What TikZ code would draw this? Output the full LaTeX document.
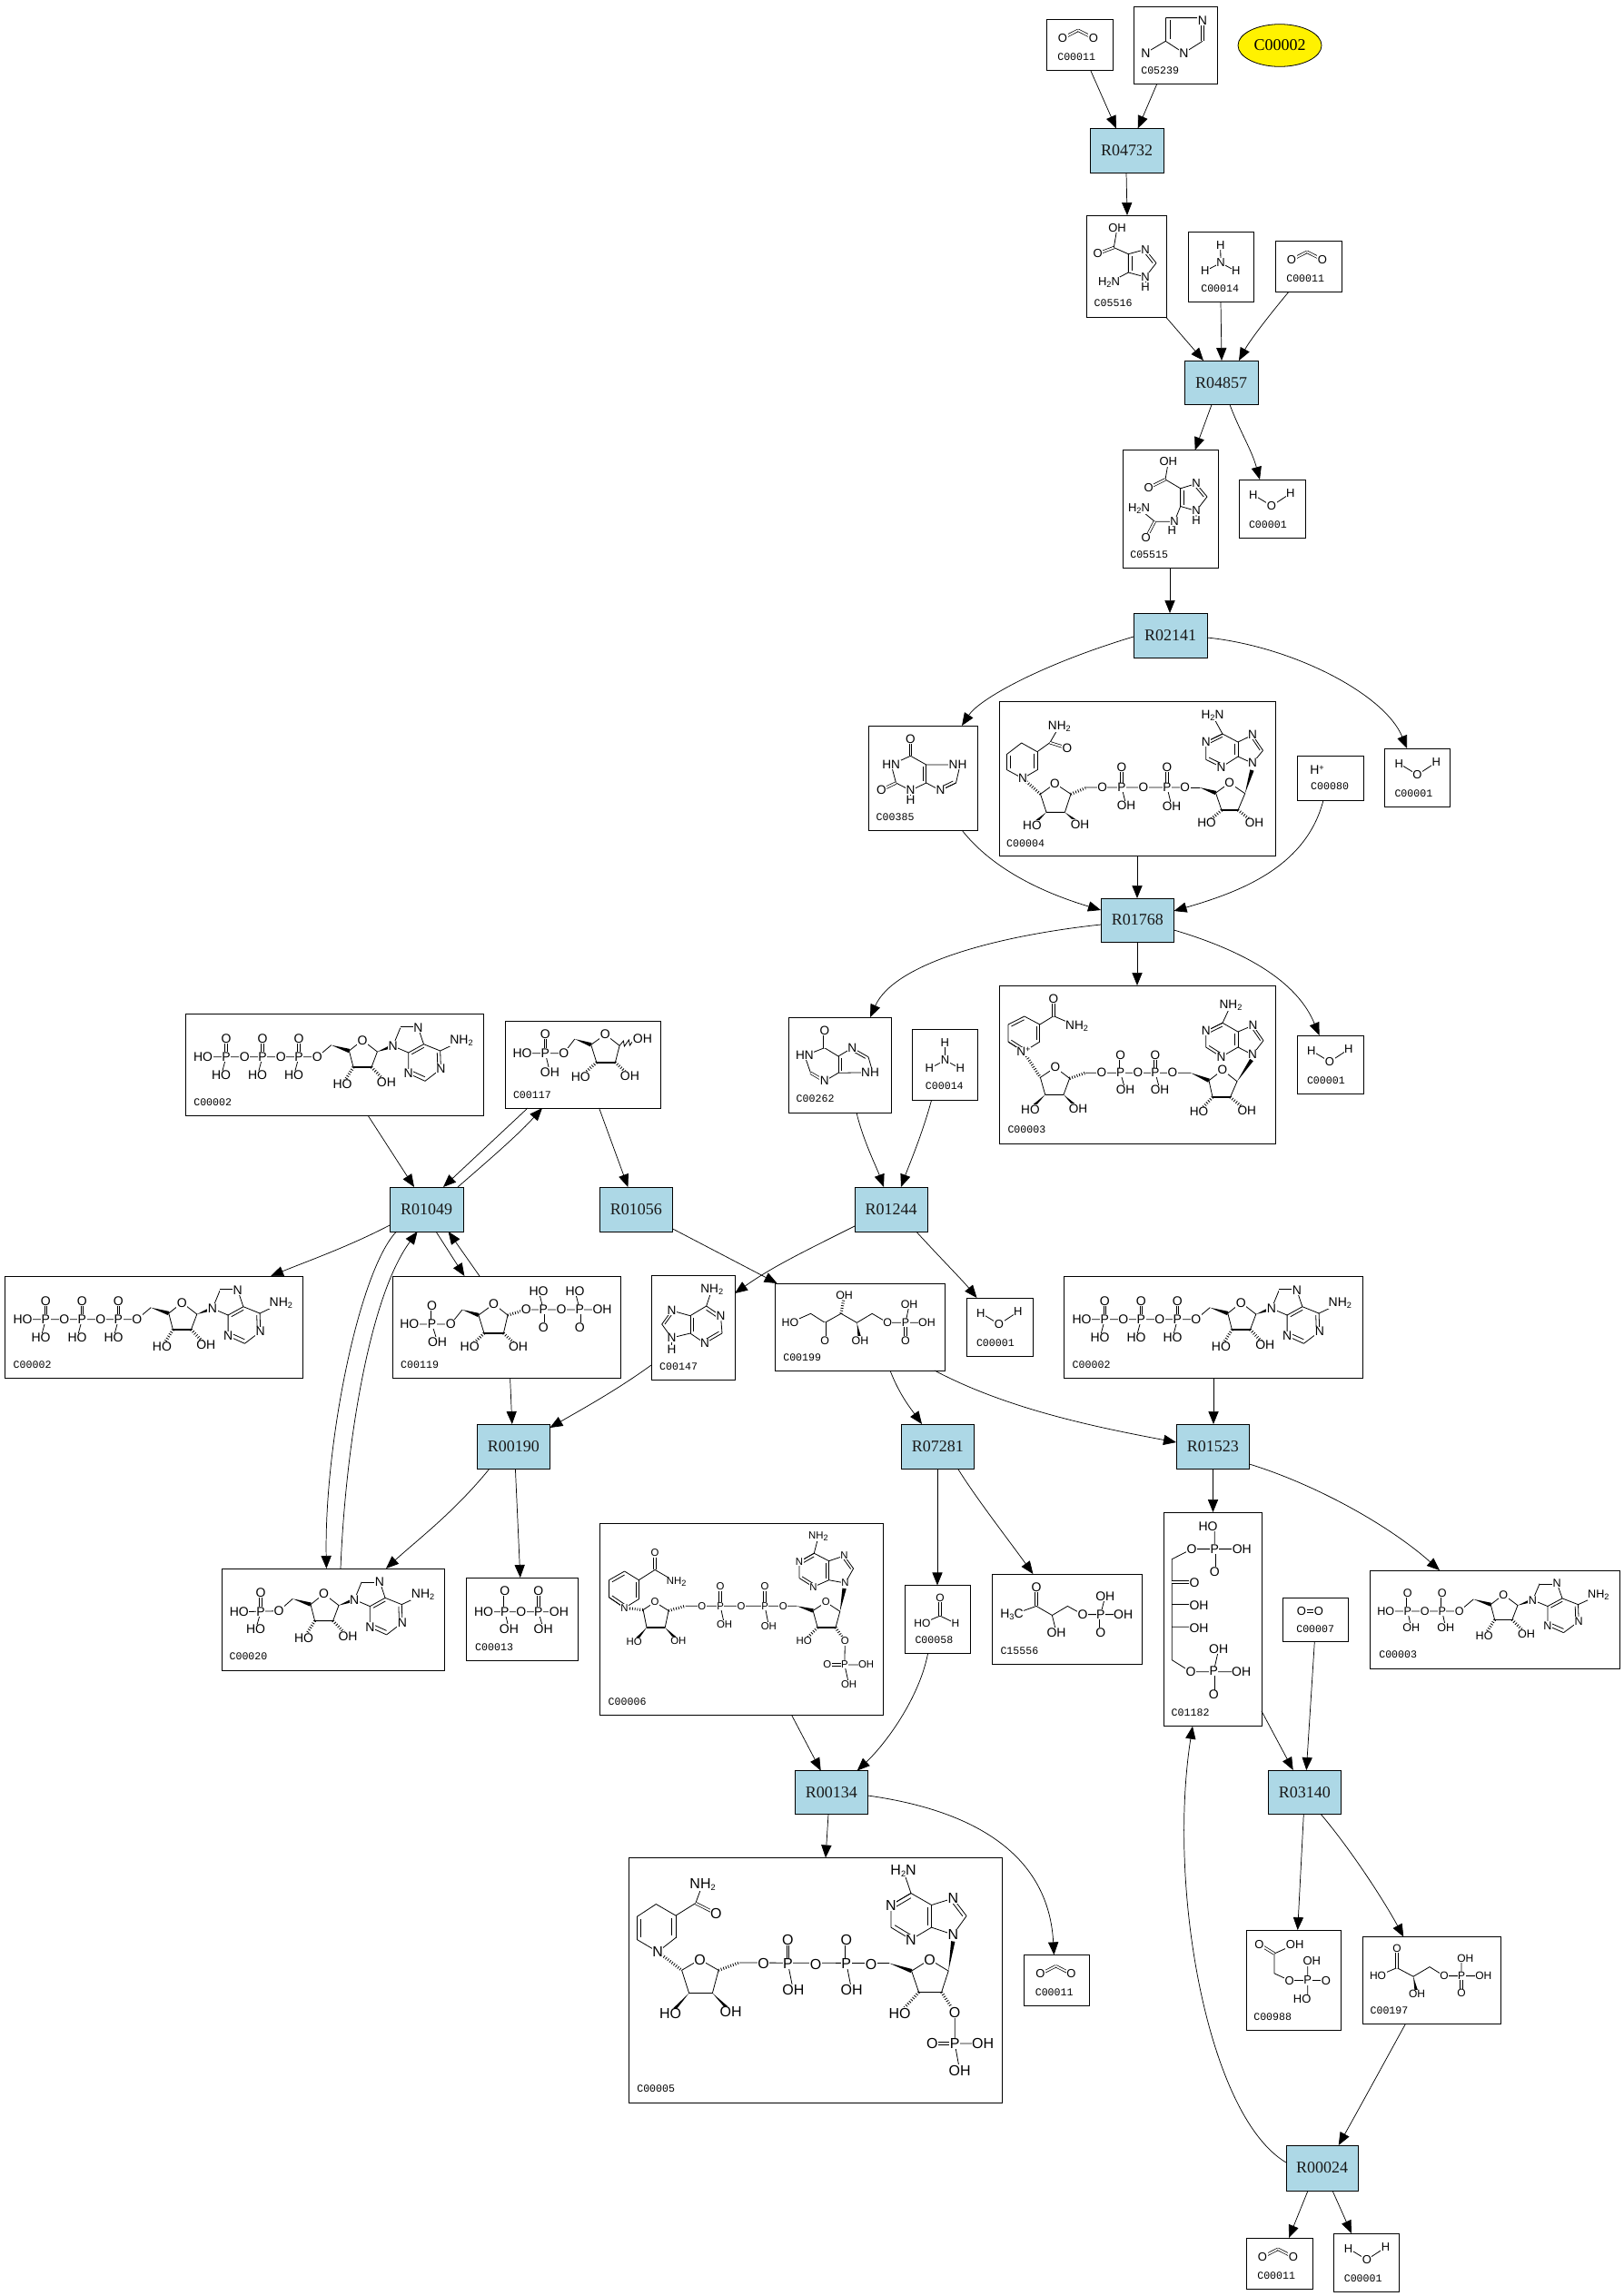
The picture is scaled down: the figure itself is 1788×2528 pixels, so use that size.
\documentclass[tikz,border=0pt]{standalone}
\usepackage{fontspec}
\setmainfont{Liberation Sans}
\newfontfamily\rfont{Liberation Serif}
\newfontfamily\lfont{Liberation Mono}
\usetikzlibrary{arrows.meta,calc,shapes.geometric}
\def\afs{7}
\tikzset{
 cbox/.style={draw=black,line width=.48pt,fill=white,inner sep=0pt,outer sep=0pt},
 rbox/.style={draw=black,line width=.48pt,fill=rxnblue,inner sep=0pt,outer sep=0pt,font=\rfont\fontsize{9}{9}\selectfont,text=black!90},
 cpd/.style={draw=black,line width=.4pt,fill=yellow,ellipse,inner sep=0pt,outer sep=0pt,font=\rfont\fontsize{9}{9}\selectfont},
 conn/.style={draw=black,line width=.36pt,-{Triangle[length=7pt,width=5.6pt]}},
 bond/.style={draw=black,line width=.4pt},
 dbl/.style={draw=black,line width=.36pt,double=white,double distance=.9pt},
 atom/.style={font=\fontsize{\afs}{\afs}\selectfont,fill=white,inner sep=.25pt,outer sep=0pt,text=black},
 lbl/.style={font=\lfont\fontsize{5.8}{6}\selectfont,inner sep=0pt,outer sep=0pt,anchor=west,text=black},
}
\definecolor{rxnblue}{HTML}{ADD8E6}
\newcount\atomn
\def\At(#1)#2{\global\advance\atomn by 1\relax\node[atom] (at\the\atomn) at (#1) {#2};}
\def\Lb(#1)#2{\global\advance\atomn by 1\relax\node[lbl] (at\the\atomn) at (#1) {#2};}
\def\Bdbl(#1)(#2){\draw[dbl] (#1)--(#2);}
\def\Brd(#1)(#2)(#3){\draw[bond] (#1)--(#2) ($(#1)!.2!(#3)$)--($(#2)!.2!(#3)$);}
\def\Bw(#1)(#2){\fill[black] (#1)--($(#2)!1.1pt!90:(#1)$)--($(#2)!1.1pt!-90:(#1)$)--cycle;}
\def\Bh(#1)(#2){\draw[black,line width=1.6pt,dash pattern=on .4pt off 1pt] (#1)--(#2);}
\def\Sbs#1{\raisebox{-1pt}{\fontsize{4.6}{5}\selectfont #1}}
\def\Sps#1{\raisebox{2pt}{\fontsize{4.6}{5}\selectfont #1}}
\newcommand\cb[5]{\pgfmathsetmacro\bw{(#4-#2)*0.5}\pgfmathsetmacro\bh{(#5-#3)*0.5}\node[cbox,minimum width=\bw pt,minimum height=\bh pt,anchor=north west] (#1) at (#2,#3) {};}
\newcommand\rb[6]{\pgfmathsetmacro\bw{(#4-#2)*0.5}\pgfmathsetmacro\bh{(#5-#3)*0.5}\node[rbox,minimum width=\bw pt,minimum height=\bh pt,anchor=north west] (#1) at (#2,#3) {#6};}
\newcommand\OnBox[2]{\begin{scope}[shift={(#1.north west)}]#2\end{scope}}
% small molecules
\newcommand\mCO[1]{\OnBox{#1}{\def\afs{6.5}\Bdbl(18,21)(35,12.3)\Bdbl(35,12.3)(52,21)\At(18,21){O}\At(52,21){O}\Lb(12.3,41.5){C00011}}}
\newcommand\mWat[1]{\OnBox{#1}{\def\afs{6.5}\draw[bond](15.7,16.6)--(36,29)--(56.7,15.4);\At(15.7,16.6){H}\At(36,29){O}\At(56.7,15.4){H}\Lb(11,50){C00001}}}
\newcommand\mAm[1]{\OnBox{#1}{\def\afs{6.5}\draw[bond](35.7,14.6)--(36,34.4) (18.7,43.5)--(36,34.4)--(52.7,43.5);\At(35.7,14.6){H}\At(36,34.4){N}\At(18.7,43.5){H}\At(52.7,43.5){H}\Lb(14.3,62.5){C00014}}}
% adenosine fragment, origin at C5'
\newcommand\mAdo{%
\Bw(0,0)(19.7,6.3)\draw[bond](19.7,6.3)--(34.3,-5.4)--(50.7,7.3)--(44.3,24.3)--(24.3,24.3)--(19.7,6.3);
\draw[line width=.8pt,black](24.3,24.3)--(44.3,24.3);
\Bh(24.3,24.3)(12.3,43.3)\Bh(44.3,24.3)(60.7,41.3)\Bw(50.7,7.3)(67.9,1)
\draw[bond](67.9,1)--(76.1,-19)(95.7,-19)--(101.8,-1)--(120,6.3)--(143.3,-4.7)(120.7,26.3)--(103.3,39.6)(85,31.3)--(85,8.3)--(67.9,1);
\Bdbl(76.1,-19)(95.7,-19)\Brd(85,8.3)(101.8,-1)(103,17)\Brd(120,6.3)(120.7,26.3)(103,17)\Brd(103.3,39.6)(85,31.3)(103,17)
\At(34.3,-5.4){O}\At(12.3,43.3){HO}\At(60.7,41.3){OH}\At(67.9,1){N}\At(95.7,-19){N}\At(143.3,-4.7){NH\Sbs{2}}\At(120.7,26.3){N}\At(85,31.3){N}}
\newcommand\mATP[1]{\OnBox{#1}{\def\afs{7}
\draw[bond](19.6,47.7)--(145.4,47.7)--(160.7,34.7) (39.6,68)--(45,47.7) (79.6,68)--(85,47.7) (119.6,68)--(125,47.7);
\Bdbl(45,28)(45,47.7)\Bdbl(85,28)(85,47.7)\Bdbl(125,28)(125,47.7)
\At(19.6,47.7){HO}\At(45,47.7){P}\At(45,28){O}\At(39.6,68){HO}\At(65.4,47.7){O}\At(85,47.7){P}\At(85,28){O}\At(79.6,68){HO}\At(105.4,47.7){O}\At(125,47.7){P}\At(125,28){O}\At(119.6,68){HO}\At(145.4,47.7){O}
\begin{scope}[shift={(160.7,34.7)}]\mAdo\end{scope}
\Lb(9.3,97.7){C00002}}}
\begin{document}
\begin{tikzpicture}[x=.5pt,y=-.5pt]
\useasboundingbox (0,0) rectangle (1788,2528);
\fill[white] (0,0) rectangle (1788,2528);
% boxes
\cb{c11a}{1152}{21}{1225}{77.5}
\cb{c5239}{1248}{7}{1340}{92.5}
\node[cpd,minimum width=46pt,minimum height=23.3pt] (ell) at (1409,50) {C00002};
\rb{r4732}{1200}{141.5}{1281}{190}{R04732}
\cb{c5516}{1196}{237}{1284}{349.5}
\cb{c14a}{1308}{255}{1380}{332.5}
\cb{c11b}{1404}{265}{1477}{321.5}
\rb{r4857}{1304}{397}{1385}{445.6}{R04857}
\cb{c5515}{1236}{495.5}{1341}{625.6}
\cb{c1a}{1364}{528}{1437}{592}
\rb{r2141}{1248}{675}{1329}{724}{R02141}
\cb{c385}{956.5}{799}{1076.6}{914}
\cb{c4}{1100}{772}{1404}{942}
\cb{c80}{1428}{832}{1501}{881}
\cb{c1b}{1524.5}{824}{1596.5}{888}
\rb{r1768}{1212}{989}{1292.5}{1037}{R01768}
\cb{c262}{868}{1120}{981}{1225}
\cb{c14b}{1004.6}{1133}{1076.6}{1211.5}
\cb{c3}{1100}{1085}{1404}{1259}
\cb{c1c}{1428}{1140}{1501}{1204}
\cb{c2a}{204}{1116}{532.5}{1228}
\cb{c117}{556.4}{1124}{727.5}{1220}
\rb{r1049}{429}{1307}{510}{1356}{R01049}
\rb{r1056}{660}{1307}{740.7}{1356}{R01056}
\rb{r1244}{941}{1307}{1021}{1356}{R01244}
\cb{c2b}{5.4}{1405}{333.5}{1517}
\cb{c119}{432.6}{1405}{683.6}{1517}
\cb{c147}{717}{1404}{809}{1519}
\cb{c199}{853.6}{1413}{1040}{1509}
\cb{c1d}{1064}{1429}{1137}{1493}
\cb{c2c}{1171.4}{1405}{1500}{1517}
\rb{r190}{525.4}{1568}{605.4}{1617}{R00190}
\rb{r7281}{992}{1568}{1072.5}{1617}{R07281}
\rb{r1523}{1295}{1568}{1375.5}{1617}{R01523}
\cb{c1182}{1281}{1665}{1389}{1900.7}
\cb{c6}{660.6}{1677}{972.5}{1888.6}
\cb{c20}{244.6}{1727}{489.7}{1839}
\cb{c13}{513.4}{1737}{636.6}{1828}
\cb{c58}{996}{1745.4}{1068.6}{1820.4}
\cb{c15556}{1092}{1733}{1257.6}{1832.6}
\cb{c3b}{1508}{1729}{1783.7}{1837}
\cb{c7}{1412}{1759.5}{1484.7}{1807.7}
\rb{r134}{875}{1949.6}{955.5}{1997.5}{R00134}
\rb{r3140}{1396}{1949}{1476.7}{1997.5}{R03140}
\cb{c5}{692.6}{2045.5}{1103.4}{2315}
\cb{c11c}{1127.5}{2152.4}{1199.5}{2208.4}
\cb{c988}{1372}{2125}{1476.7}{2235.5}
\cb{c197}{1500.3}{2132.6}{1652.7}{2228.6}
\rb{r24}{1416}{2362}{1495}{2412}{R00024}
\cb{c11d}{1372}{2464}{1445}{2520}
\cb{c1e}{1468.8}{2459}{1540}{2523}
% connectors
\draw[conn] (c11a.south -| 1200.7,0) -- (r4732.north -| 1229,0);
\draw[conn] (c5239.south -| 1273.7,0) -- (r4732.north -| 1252.7,0);
\draw[conn] (r4732.south -| 1240,0) -- (c5516.north -| 1241,0);
\draw[conn] (c5516.south -| 1284,0) -- (r4857.north -| 1325,0);
\draw[conn] (c14a.south -| 1344,0) -- (r4857.north -| 1345,0);
\draw[conn] (c11b.south -| 1418.7,0) .. controls (1395,350) and (1376,375) .. (r4857.north -| 1364,0);
\draw[conn] (r4857.south -| 1334,0) -- (c5515.north -| 1315.7,0);
\draw[conn] (r4857.south -| 1354,0) .. controls (1365,475) and (1378,495) .. (c1a.north -| 1387,0);
\draw[conn] (c5515.south -| 1288,0) -- (r2141.north -| 1288,0);
\draw[conn] (r2141.west |- 0,701) .. controls (1145,732) and (1078,770) .. (c385.north -| 1059,0);
\draw[conn] (r2141.east |- 0,702) .. controls (1425,712) and (1525,765) .. (c1b.north -| 1549,0);
\draw[conn] (c385.south -| 1059,0) .. controls (1095,960) and (1155,985) .. (r1768.west |- 0,1002);
\draw[conn] (c4.south -| 1252,0) -- (r1768.north -| 1252,0);
\draw[conn] (c80.south -| 1457,0) .. controls (1438,955) and (1365,982) .. (r1768.east |- 0,1003);
\draw[conn] (r1768.west |- 0,1018) .. controls (1100,1030) and (985,1060) .. (c262.north -| 958,0);
\draw[conn] (r1768.south -| 1252,0) -- (c3.north -| 1252,0);
\draw[conn] (r1768.east |- 0,1024) .. controls (1380,1050) and (1430,1085) .. (c1c.north -| 1452.5,0);
\draw[conn] (c262.south -| 943,0) .. controls (950,1255) and (965,1285) .. (r1244.north -| 973,0);
\draw[conn] (c14b.south -| 1025.5,0) .. controls (1015,1250) and (1000,1285) .. (r1244.north -| 992,0);
\draw[conn] (r1244.west |- 0,1350) .. controls (885,1378) and (850,1395) .. (c147.east |- 0,1424);
\draw[conn] (r1244.south -| 1008.7,0) .. controls (1040,1390) and (1060,1410) .. (c1d.north -| 1075.5,0);
\draw[conn] (r1056.east |- 0,1353) -- (c199.north -| 855.6,0);
\draw[conn] (c199.south -| 980,0) .. controls (990,1535) and (1002,1550) .. (r7281.north -| 1015,0);
\draw[conn] (c199.south -| 1029,0) .. controls (1110,1552) and (1210,1572) .. (r1523.west |- 0,1588);
\draw[conn] (c2c.south -| 1336,0) -- (r1523.north -| 1336,0);
\draw[conn] (c2a.south -| 405,0) -- (r1049.north -| 456,0);
\draw[conn] (c117.south -| 581,0) -- (r1049.north -| 488,0);
\draw[conn] (r1049.north -| 504,0) .. controls (535,1280) and (570,1250) .. (c117.south -| 597,0);
\draw[conn] (c117.south -| 659.6,0) -- (r1056.north -| 691.4,0);
\draw[conn] (r1049.west |- 0,1349) .. controls (385,1372) and (340,1388) .. (c2b.north -| 298,0);
\draw[conn] (r1049.south -| 480,0) -- (c119.north -| 511.4,0);
\draw[conn] (c119.north -| 528,0) -- (r1049.south -| 493.6,0);
\draw[conn] (r1049.south -| 436.4,0) .. controls (395,1400) and (357,1590) .. (c20.north -| 359.4,0);
\draw[conn] (c20.north -| 375,0) .. controls (380,1600) and (405,1430) .. (r1049.south -| 459.6,0);
\draw[conn] (c119.south -| 561.6,0) -- (r190.north -| 563.8,0);
\draw[conn] (c147.west |- 0,1503) .. controls (680,1530) and (640,1552) .. (r190.east |- 0,1572);
\draw[conn] (r190.south -| 539,0) .. controls (500,1665) and (460,1695) .. (c20.north -| 425,0);
\draw[conn] (r190.south -| 567.4,0) -- (c13.north -| 572.8,0);
\draw[conn] (r7281.south -| 1032,0) -- (c58.north -| 1032,0);
\draw[conn] (r7281.south -| 1054.5,0) .. controls (1075,1650) and (1110,1695) .. (c15556.north -| 1137.4,0);
\draw[conn] (r1523.south -| 1335.5,0) -- (c1182.north -| 1335.5,0);
\draw[conn] (r1523.east |- 0,1612) .. controls (1450,1635) and (1530,1680) .. (c3b.north -| 1585,0);
\draw[conn] (c58.south -| 1021.6,0) .. controls (1012,1870) and (975,1920) .. (r134.north -| 943.7,0);
\draw[conn] (c6.south -| 871.7,0) -- (r134.north -| 903.7,0);
\draw[conn] (r134.south -| 912,0) -- (c5.north -| 909,0);
\draw[conn] (r134.east |- 0,1977) .. controls (1085,1995) and (1155,2050) .. (c11c.north -| 1160.4,0);
\draw[conn] (c1182.east |- 0,1884) -- (r3140.north -| 1423.7,0);
\draw[conn] (c7.south -| 1447.3,0) -- (r3140.north -| 1438.3,0);
\draw[conn] (r3140.south -| 1435.3,0) -- (c988.north -| 1428.7,0);
\draw[conn] (r3140.south -| 1454.3,0) .. controls (1490,2040) and (1525,2095) .. (c197.north -| 1545.3,0);
\draw[conn] (c197.south -| 1547.3,0) .. controls (1530,2260) and (1500,2315) .. (r24.north -| 1473.7,0);
\draw[conn] (r24.west |- 0,2381) .. controls (1330,2330) and (1285,2080) .. (c1182.south -| 1313,0);
\draw[conn] (r24.south -| 1440,0) -- (c11d.north -| 1419,0);
\draw[conn] (r24.south -| 1467,0) -- (c1e.north -| 1488,0);
% repeating molecules
\mCO{c11a}\mCO{c11b}\mCO{c11c}\mCO{c11d}
\mWat{c1a}\mWat{c1b}\mWat{c1c}\mWat{c1d}\mWat{c1e}
\mAm{c14a}\mAm{c14b}
\mATP{c2a}\mATP{c2b}\mATP{c2c}
% C05239
\OnBox{c5239}{\def\afs{7}
\draw[bond](35.3,12.6)--(76,12.6)(76,38.3)--(55.3,51.4)--(35.3,38.3)--(13.3,51.4);
\Brd(35.3,12.6)(35.3,38.3)(60,26)\Bdbl(76,15.4)(76,38.3)
\At(76,15.4){N}\At(13.3,51.4){N}\At(55.3,51.4){N}\Lb(8.3,70.8){C05239}}
% C05516
\OnBox{c5516}{\def\afs{6.5}
\draw[bond](34,13.8)--(30.3,35.6)--(46.3,42.7)--(65,37.6)(65,68)--(46.3,63)--(46.3,42.7)(77,52.6)--(65,68)(46.3,63)--(25,74.3);
\Bdbl(30.3,35.6)(12.7,42.3)\Brd(65,37.6)(77,52.6)(58,53)\Brd(46.3,42.7)(46.3,63)(66,53)
\draw[bond](65,68)--(65,79);
\At(34,13.8){OH}\At(12.7,42.3){O}\At(65,37.6){N}\At(65,68){N}\At(65,79){H}\At(25,74.3){H\Sbs{2}N}\Lb(8.7,96.8){C05516}}
% C05515
\OnBox{c5515}{\def\afs{6.5}
\draw[bond](50.3,13)--(47,32.4)--(63.7,42.3)--(81,37)(81,67)--(63.7,62)--(63.7,42.3)(93,51.4)--(81,67)(63.7,62)--(57,78.7)--(35.3,78.7)--(18,64.5)(81,67)--(81,78)(57,78.7)--(54.3,89);
\Bdbl(47,32.4)(28.7,41.5)\Brd(81,37)(93,51.4)(74,52)\Brd(63.7,42.3)(63.7,62)(84,52)\Bdbl(35.3,78.7)(25.7,96.9)
\At(50.3,13){OH}\At(28.7,41.5){O}\At(81,37){N}\At(81,67){N}\At(81,78){H}\At(57,78.7){N}\At(54.3,89){H}\At(18,64.5){H\Sbs{2}N}\At(25.7,96.9){O}\Lb(8.3,115.4){C05515}}
% C00385
\OnBox{c385}{\def\afs{6.8}
\draw[bond](46,33.3)--(24.7,43)--(30,63)--(46,71.3)--(63.3,63)--(78.9,71.3)--(96,63)--(100.6,43)--(63.3,43)--(46,33.3)(46,71.3)--(46,82.3);
\Bdbl(46,14.7)(46,33.3)\Bdbl(30,63)(13.9,70.7)\Brd(63.3,43)(63.3,63)(45,53)\Brd(96,63)(78.9,71.3)(80,53)
\At(46,14.7){O}\At(24.7,43){HN}\At(13.9,70.7){O}\At(46,71.3){N}\At(46,82.3){H}\At(98,43){NH}\At(78.9,71.3){N}\Lb(8.2,100.7){C00385}}
% C00262
\OnBox{c262}{\def\afs{6.8}
\draw[bond](39.8,33.7)--(17.9,42.3)--(24.5,61.3)(39.8,70.3)--(55,61.3)--(92.9,60.7)(39.8,33.7)--(55,43)--(70.4,33.7)(88,43.7)--(92.9,60.7);
\Bdbl(39.8,14.7)(39.8,33.7)\Bdbl(24.5,61.3)(39.8,70.3)\Brd(55,43)(55,61.3)(70,52)\Brd(70.4,33.7)(88,43.7)(72,52)
\At(39.8,14.7){O}\At(17.9,42.3){HN}\At(39.8,70.3){N}\At(70.4,33.7){N}\At(90,60.7){NH}\Lb(8.7,89.7){C00262}}
% C00147
\OnBox{c147}{\def\afs{6.8}
\draw[bond](66.8,15.7)--(60.7,34)(60.7,34)--(42.9,44.7)--(22.5,39)(22.5,69)--(42.9,64)--(59,75)(76.5,44.7)--(78,64)(22.5,69)--(22.5,82.3);
\Brd(60.7,34)(76.5,44.7)(60,55)\Brd(42.9,44.7)(42.9,64)(60,55)\Brd(78,64)(59,75)(60,55)\Brd(22.5,39)(11.7,54)(28,54)\draw[bond](11.7,54)--(22.5,69);
\At(66.8,15.7){NH\Sbs{2}}\At(76.5,44.7){N}\At(59,75){N}\At(22.5,39){N}\At(22.5,69){N}\At(22.5,82.3){H}\Lb(9.2,100.7){C00147}}
% C00199
\OnBox{c199}{\def\afs{6.2}
\draw[bond](16.3,43.3)--(39,33.3)--(54.6,43.3)--(72.4,33.3)--(89.8,43.3)--(106.6,33.3)--(123.5,43.3)--(166.8,43.3)(143.4,43.3)--(147.5,23.3);
\Bdbl(54.6,43.3)(54.6,63.3)\Bdbl(143.4,43.3)(143.4,63.3)\Bh(72.4,33.3)(76,13.3)\Bw(89.8,43.3)(93.4,63.3)
\At(16.3,43.3){HO}\At(54.6,63.3){O}\At(76,13.3){OH}\At(93.4,63.3){OH}\At(123.5,43.3){O}\At(143.4,43.3){P}\At(147.5,23.3){OH}\At(166.8,43.3){OH}\At(143.4,63.3){O}\Lb(8.7,81.7){C00199}}
% C00080
\OnBox{c80}{\def\afs{7}\At(22,16){H\Sps{+}}\Lb(15.2,33.7){C00080}}
% C00058
\OnBox{c58}{\def\afs{6}
\draw[bond](19.4,42)--(39,33.7)--(56,42);\Bdbl(39,13.5)(39,33.7)
\At(39,13.5){O}\At(19.4,42){HO}\At(56,42){H}\Lb(11.5,60.6){C00058}}
% C15556
\OnBox{c15556}{\def\afs{7}
\draw[bond](22,45)--(49,35.4)--(66.4,45.5)--(83.4,35.4)--(100,44.6)--(144.6,44.6)(66.4,45.5)--(71,64.4)(119.7,44.6)--(124.8,24.8);
\Bdbl(49,15)(49,35.4)\Bdbl(119.7,44.6)(119.7,64.4)
\At(22,45){H\Sbs{3}C}\At(49,15){O}\At(71,64.4){OH}\At(100,44.6){O}\At(119.7,44.6){P}\At(124.8,24.8){OH}\At(144.6,44.6){OH}\At(119.7,64.4){O}\Lb(9.5,84.6){C15556}}
% C01182
\OnBox{c1182}{\def\afs{7}
\draw[bond](31,40.6)--(86.3,40.6)(56.3,40.6)--(56.3,16)(31,40.6)--(9.3,51.7)--(9.3,162.7)--(30,175.7)--(85.7,175.7)(55.3,175)--(60.7,151)(9.3,101.4)--(39,101.4)(9.3,126.3)--(39,126.3);
\Bdbl(56.3,40.6)(56.3,65.4)\Bdbl(9.3,77)(34,77)\Bdbl(55.3,175)(55.3,201)
\At(49,16){HO}\At(31,40.6){O}\At(56.3,40.6){P}\At(86.3,40.6){OH}\At(56.3,65.4){O}\At(34,77.5){O}\At(39,102.6){OH}\At(39,127.5){OH}\At(30,175.7){O}\At(55.3,175){P}\At(60.7,151){OH}\At(85.7,175.7){OH}\At(55.3,201){O}\Lb(8.7,220.8){C01182}}
% C00007
\OnBox{c7}{\def\afs{6.5}\Bdbl(21,14.5)(40,14.5)\At(21,14.5){O}\At(40,14.5){O}\Lb(15.3,33.7){C00007}}
% C00988
\OnBox{c988}{\def\afs{6.5}
\draw[bond](53.7,15.7)--(31,26)--(31,47.8)--(47.7,55.5)--(88,55.5)(67.7,34.4)--(67.7,75.8);
\Bdbl(14.3,15.7)(31,26)
\At(14.3,15.7){O}\At(53.7,15.7){OH}\At(47.7,55.5){O}\At(67.7,55.5){P}\At(72.3,34.4){OH}\At(88,55.5){O}\At(61.7,75.8){HO}\Lb(8.3,95.7){C00988}}
% C00197
\OnBox{c197}{\def\afs{6}
\draw[bond](16.7,43)--(37.7,34)--(55.7,43.6)--(73.7,33)--(89.7,43)--(133,43)(108.7,43)--(108.7,23.7);
\Bdbl(37.7,13)(37.7,34)\Bw(55.7,43.6)(59.7,62.8)\Bdbl(108.7,43)(108.7,62)
\At(37.7,13){O}\At(16.7,43){HO}\At(59.7,62.8){OH}\At(89.7,43){O}\At(108.7,43){P}\At(113,23.7){OH}\At(133,43){OH}\At(108.7,62){O}\Lb(8.3,81){C00197}}
% C00013
\OnBox{c13}{\def\afs{7}
\draw[bond](19.2,37.7)--(102,37.7)(42.4,37.7)--(47,56.7)(79.5,37.7)--(84.8,56.7);
\Bdbl(42.4,15)(42.4,37.7)\Bdbl(79.5,15)(79.5,37.7)
\At(19.2,37.7){HO}\At(42.4,37.7){P}\At(42.4,15){O}\At(47,56.7){OH}\At(60.3,37.7){O}\At(79.5,37.7){P}\At(79.5,15){O}\At(84.8,56.7){OH}\At(102,37.7){OH}\Lb(9.8,76.7){C00013}}
% C00020
\OnBox{c20}{\def\afs{7}
\draw[bond](18.7,47.7)--(62.5,46.7)--(77.7,33.3)(37,67)--(42.4,47.7);\Bdbl(42.4,26.7)(42.4,47.7)
\At(18.7,47.7){HO}\At(42.4,47.7){P}\At(42.4,26.7){O}\At(37,67){HO}\At(62.5,46.7){O}
\begin{scope}[shift={(77.7,33.3)}]\mAdo\end{scope}
\Lb(8,96.7){C00020}}
% C00003 (right)
\OnBox{c3b}{\def\afs{6.3}
\draw[bond](17.7,45)--(98.7,45)--(114.3,31.8)(41.7,45)--(45.7,63)(79.7,45)--(83.7,63);
\Bdbl(41.7,25)(41.7,45)\Bdbl(79.7,25)(79.7,45)
\At(17.7,45){HO}\At(41.7,45){P}\At(41.7,25){O}\At(45.7,63){OH}\At(60.7,45){O}\At(79.7,45){P}\At(79.7,25){O}\At(83.7,63){OH}\At(98.7,45){O}
\begin{scope}[shift={(114.3,31.8)},xscale=.96,yscale=.93]\mAdo\end{scope}
\Lb(10.3,92.3){C00003}}
% C00119
\OnBox{c119}{\def\afs{7}
\draw[bond](18.2,53)--(63.6,53)--(76.4,37)(43,53)--(49,72.3)(146.8,37)--(230.4,37)(165.7,37)--(160.4,16.3)(205.7,37)--(200.4,16.3);
\Bdbl(43,33)(43,53)\Bdbl(165.7,37)(165.7,56.3)\Bdbl(205.7,37)(205.7,56.3)
\Bw(76.4,37)(94.3,43)\draw[bond](94.3,43)--(111,30.7)--(126.4,43)--(121.8,63)--(100.4,63)--(94.3,43);
\draw[line width=.8pt,black](100.4,63)--(121.8,63);\Bh(100.4,63)(84.6,78)\Bh(121.8,63)(137.9,78)\Bh(126.4,43)(146.8,37)
\At(18.2,53){HO}\At(43,53){P}\At(43,33){O}\At(49,72.3){OH}\At(63.6,53){O}\At(111,30.7){O}\At(84.6,78){HO}\At(137.9,78){OH}\At(146.8,37){O}\At(165.7,37){P}\At(160.4,16.3){HO}\At(165.7,56.3){O}\At(185.4,37){O}\At(205.7,37){P}\At(200.4,16.3){HO}\At(205.7,56.3){O}\At(230.4,37){OH}\Lb(8.6,97.3){C00119}}
% C00117
\OnBox{c117}{\def\afs{7}
\draw[bond](18.6,35.7)--(64.3,35.7)--(76.4,20)(44,35.7)--(49,56.7);\Bdbl(44,15)(44,35.7)
\Bw(76.4,20)(94.3,26.3)\draw[bond](94.3,26.3)--(110,15)--(125.7,27.3)--(121,45.7)--(100.4,45.7)--(94.3,26.3);
\draw[line width=.8pt,black](100.4,45.7)--(121,45.7);\Bh(100.4,45.7)(82.9,61.7)\Bh(121,45.7)(137,60.7)
\draw[bond](125.7,27.3)--(130,22)--(131,28)--(136,21)--(137,27)--(142,20);
\At(18.6,35.7){HO}\At(44,35.7){P}\At(44,15){O}\At(49,56.7){OH}\At(64.3,35.7){O}\At(110,15){O}\At(82.9,61.7){HO}\At(137,60.7){OH}\At(151,19.7){OH}\Lb(8.6,81.7){C00117}}
% C00004 NADH
\OnBox{c4}{\def\afs{6.8}
\draw[bond](66.3,27.7)--(55.9,45.7)--(42,55.7)--(24.7,46)--(8.7,58.3)(8.7,75.7)--(26,85)--(42,75.7);
\Bdbl(55.9,45.7)(75,51.7)\Brd(42,55.7)(42,75.7)(25,65)\Brd(8.7,58.3)(8.7,75.7)(25,65)
\Bh(26,85)(45.5,102.3)
\draw[bond](45.5,102.3)--(61.5,90.7)--(79,102.3)--(72.4,122.3)--(52,122.3)--(45.5,102.3);
\draw[line width=.8pt,black](52,122.3)--(72.4,122.3);\Bw(52,122.3)(36.4,136.7)\Bw(72.4,122.3)(89,135.7)\Bh(79,102.3)(95,95.7)
\draw[bond](95,95)--(204.7,95)(135,95)--(140,115.3)(185,95)--(190,116);
\Bdbl(135,72.7)(135,95)\Bdbl(185,72.7)(185,95)
\draw[bond](204.7,95)--(220.7,95);\Bw(220.7,95)(238.5,101)
\draw[bond](238.5,101)--(253.7,90)--(270.7,101.7)--(263,120)--(245,120)--(238.5,101);
\draw[line width=.8pt,black](245,120)--(263,120);\Bh(245,120)(228.5,134)\Bh(263,120)(281,134)\Bw(270.7,101.7)(278.4,76)
\draw[bond](279,68.3)--(263,61)--(244.6,72.7)(227.7,64.3)--(227.7,45)--(245.9,36)--(263,45)--(279,37.3)(245.9,36)--(235,16)(290.5,54.3)--(279,68.3);
\Brd(263,45)(263,61)(245,53)\Brd(244.6,72.7)(227.7,64.3)(245,53)\Brd(227.7,45)(245.9,36)(245,53)\Brd(279,37.3)(290.5,54.3)(274,53)
\At(66.3,27.7){NH\Sbs{2}}\At(75,51.7){O}\At(26,85){N}\At(61.5,90.7){O}\At(36.4,136.7){HO}\At(89,135.7){OH}
\At(113.6,95){O}\At(135,95){P}\At(135,72.7){O}\At(140,115.3){OH}\At(159,95){O}\At(185,95){P}\At(185,72.7){O}\At(190,116){OH}\At(204.7,95){O}
\At(253.7,90){O}\At(228.5,134){HO}\At(281,134){OH}\At(279,68.3){N}\At(279,37.3){N}\At(227.7,45){N}\At(235,16){H\Sbs{2}N}\At(244.6,72.7){N}\Lb(8.2,156.7){C00004}}
% C00003 NAD+
\OnBox{c3}{\def\afs{6.8}
\draw[bond](60,33.7)--(85.6,44.7)(60,33.7)--(44.8,43)--(27.8,34)(10,43)--(10,62)--(27,73)--(44.8,62);
\Bdbl(60,14.7)(60,33.7)\Brd(44.8,43)(44.8,62)(27,53)\Brd(27.8,34)(10,43)(27,53)\Brd(10,62)(27,73)(27,53)
\Bh(27,73)(45.4,101.3)
\draw[bond](45.4,101.3)--(61.8,90.3)--(77.6,102.3)--(71,120.3)--(50.7,120.3)--(45.4,101.3);
\draw[line width=.8pt,black](50.7,120.3)--(71,120.3);\Bw(50.7,120.3)(34.4,136.3)\Bw(71,120.3)(87,135.7)\Bh(77.6,102.3)(95,96.3)
\draw[bond](95,96.3)--(211,96.3)(133.6,96.3)--(139,115)(172,96.3)--(177,115);
\Bdbl(133.6,77)(133.6,96.3)\Bdbl(172,77)(172,96.3)
\Bw(211,96.3)(231,104.7)
\draw[bond](231,104.7)--(246,93)--(262,105.7)--(254.5,123)--(235,123)--(231,104.7);
\draw[line width=.8pt,black](235,123)--(254.5,123);\Bh(235,123)(220,139)\Bh(254.5,123)(272.8,138)\Bw(262,105.7)(278,82)
\draw[bond](279,76.3)--(263,68)--(244.6,78.7)(227.7,68)--(227.7,50.3)--(246,41.3)--(263,51)--(279.5,44)(246,41.3)--(255,22)(291,60.7)--(279,76.3);
\Brd(263,51)(263,68)(245,60)\Brd(244.6,78.7)(227.7,68)(245,60)\Brd(227.7,50.3)(246,41.3)(245,60)\Brd(279.5,44)(291,60.7)(274,60)
\At(60,14.7){O}\At(85.6,44.7){NH\Sbs{2}}\At(27,73){N\Sps{+}}\At(61.8,90.3){O}\At(34.4,136.3){HO}\At(87,135.7){OH}
\At(113,96.3){O}\At(133.6,96.3){P}\At(133.6,77){O}\At(139,115){OH}\At(153,96.3){O}\At(172,96.3){P}\At(172,77){O}\At(177,115){OH}\At(190.8,96.3){O}
\At(246,93){O}\At(220,139){HO}\At(272.8,138){OH}\At(279,76.3){N}\At(279.5,44){N}\At(227.7,50.3){N}\At(255,22){NH\Sbs{2}}\At(244.6,78.7){N}\Lb(9.5,158.7){C00003}}
% C00006 NADP+
\OnBox{c6}{\def\afs{5.7}
\draw[bond](60.5,51.4)--(84,65)(60.5,51.4)--(42.7,62.7)--(27,53)(9.9,62.7)--(9.9,81.7)--(27,93.4)--(42.7,83.7);
\Bdbl(60.5,33)(60.5,51.4)\Brd(42.7,62.7)(42.7,83.7)(27,73)\Brd(27,53)(9.9,62.7)(27,73)\Brd(9.9,81.7)(27,93.4)(27,73)
\Bh(27,93.4)(47.5,95.5)
\draw[bond](47.5,95.5)--(60.5,87)--(75.5,96.4)--(71.6,115)--(51.4,115)--(47.5,95.5);
\draw[line width=.8pt,black](51.4,115)--(71.6,115);\Bw(51.4,115)(37.6,131)\Bw(71.6,115)(86.2,130)\Bh(75.5,96.4)(94,91.3)
\draw[bond](94,91.3)--(216.7,91.3)(132.5,91.3)--(137,112)(181.5,91.3)--(185.8,113.2);
\Bdbl(132.5,70)(132.5,91.3)\Bdbl(181.5,70)(181.5,91.3)
\Bw(216.7,91.3)(234.5,96.4)
\draw[bond](234.5,96.4)--(248.7,87)--(264.2,97.2)--(259.4,115)--(239.6,115)--(234.5,96.4);
\draw[line width=.8pt,black](239.6,115)--(259.4,115);\Bh(239.6,115)(224.6,130)\Bh(259.4,115)(269.7,130)\Bw(264.2,97.2)(269,72)
\draw[bond](270,66)--(252,62.7)--(234.9,70.3)(219.4,60.6)--(219.4,42.5)--(235.7,33.2)--(252,41.7)--(268.9,36)(235.7,33.2)--(240.4,15)(279,50)--(270,66);
\Brd(252,41.7)(252,62.7)(235,52)\Brd(234.9,70.3)(219.4,60.6)(235,52)\Brd(219.4,42.5)(235.7,33.2)(235,52)\Brd(268.9,36)(279,50)(264,52)
\draw[bond](269.7,130)--(269.3,156)--(293,156)(269.3,156)--(274,177.6);\Bdbl(250.3,156)(269.3,156)
\At(60.5,33){O}\At(84,65){NH\Sbs{2}}\At(27,93.4){N}\At(60.5,87){O}\At(37.6,131){HO}\At(86.2,130){OH}
\At(112.3,91.3){O}\At(132.5,91.3){P}\At(132.5,70){O}\At(137,112){OH}\At(155.4,91.3){O}\At(181.5,91.3){P}\At(181.5,70){O}\At(185.8,113.2){OH}\At(201.7,92){O}
\At(248.7,87){O}\At(224.6,130){HO}\At(269.7,130){O}\At(270,66){N}\At(268.9,36){N}\At(219.4,42.5){N}\At(240.4,15){NH\Sbs{2}}\At(234.9,70.3){N}
\At(269.3,156){P}\At(250.3,156){O}\At(293,156){OH}\At(274,177.6){OH}\Lb(9.1,196.5){C00006}}
% C00005 NADPH
\OnBox{c5}{\def\afs{8}
\draw[bond](81,29)--(73.2,50)--(51.4,63.6)--(29.7,51)--(8.7,64.8)(8.7,90)--(31.6,103.5)--(51.4,88);
\Bdbl(73.2,50)(95.7,61.4)\Brd(51.4,63.6)(51.4,88)(30,77)\Brd(8.7,64.8)(8.7,90)(30,77)
\Bh(31.6,103.5)(58,123.8)
\draw[bond](58,123.8)--(77.9,112)--(98.5,123.8)--(91.8,149)--(66,149)--(58,123.8);
\draw[line width=.8pt,black](66,149)--(91.8,149);\Bw(66,149)(45.5,171.6)\Bw(91.8,149)(112,169.4)\Bh(98.5,123.8)(121.4,115.3)
\draw[bond](121.4,115.5)--(286.3,116)(174.8,116)--(180.7,145.6)(239.2,116)--(245,145.6);
\Bdbl(174.8,90)(174.8,116)\Bdbl(239.2,90)(239.2,116)
\Bw(286.3,116)(311,124.6)
\draw[bond](311,124.6)--(331,112)--(351.6,124.6)--(344,148)--(319,148)--(311,124.6);
\draw[line width=.8pt,black](319,148)--(344,148);\Bh(319,148)(298,171)\Bh(344,148)(358.6,170)\Bw(351.6,124.6)(356.7,92)
\draw[bond](356.7,84.6)--(333,76.6)--(310.4,90)(288.3,76.6)--(288.3,52)--(310.4,39)--(333,52)--(356.7,44.6)(310.4,39)--(302,14.3)(371.5,64)--(356.7,84.6);
\Brd(333,52)(333,76.6)(310,65)\Brd(310.4,90)(288.3,76.6)(310,65)\Brd(288.3,52)(310.4,39)(310,65)\Brd(356.7,44.6)(371.5,64)(350,65)
\draw[bond](358.6,170)--(358.6,204.5)--(389.5,204.5)(358.6,204.5)--(364,234);\Bdbl(333.7,204.5)(358.6,204.5)
\At(81,29){NH\Sbs{2}}\At(95.7,61.4){O}\At(31.6,103.5){N}\At(77.9,112){O}\At(45.5,171.6){HO}\At(112,169.4){OH}
\At(148,116){O}\At(174.8,116){P}\At(174.8,90){O}\At(180.7,145.6){OH}\At(205.6,117.4){O}\At(239.2,116){P}\At(239.2,90){O}\At(245,145.6){OH}\At(266.5,117.4){O}
\At(331,112){O}\At(298,171){HO}\At(358.6,170){O}\At(356.7,84.6){N}\At(356.7,44.6){N}\At(288.3,52){N}\At(302,14.3){H\Sbs{2}N}\At(310.4,90){N}
\At(358.6,204.5){P}\At(333.7,204.5){O}\At(389.5,204.5){OH}\At(364,234){OH}\Lb(8.7,254){C00005}}
\end{tikzpicture}
\end{document}
